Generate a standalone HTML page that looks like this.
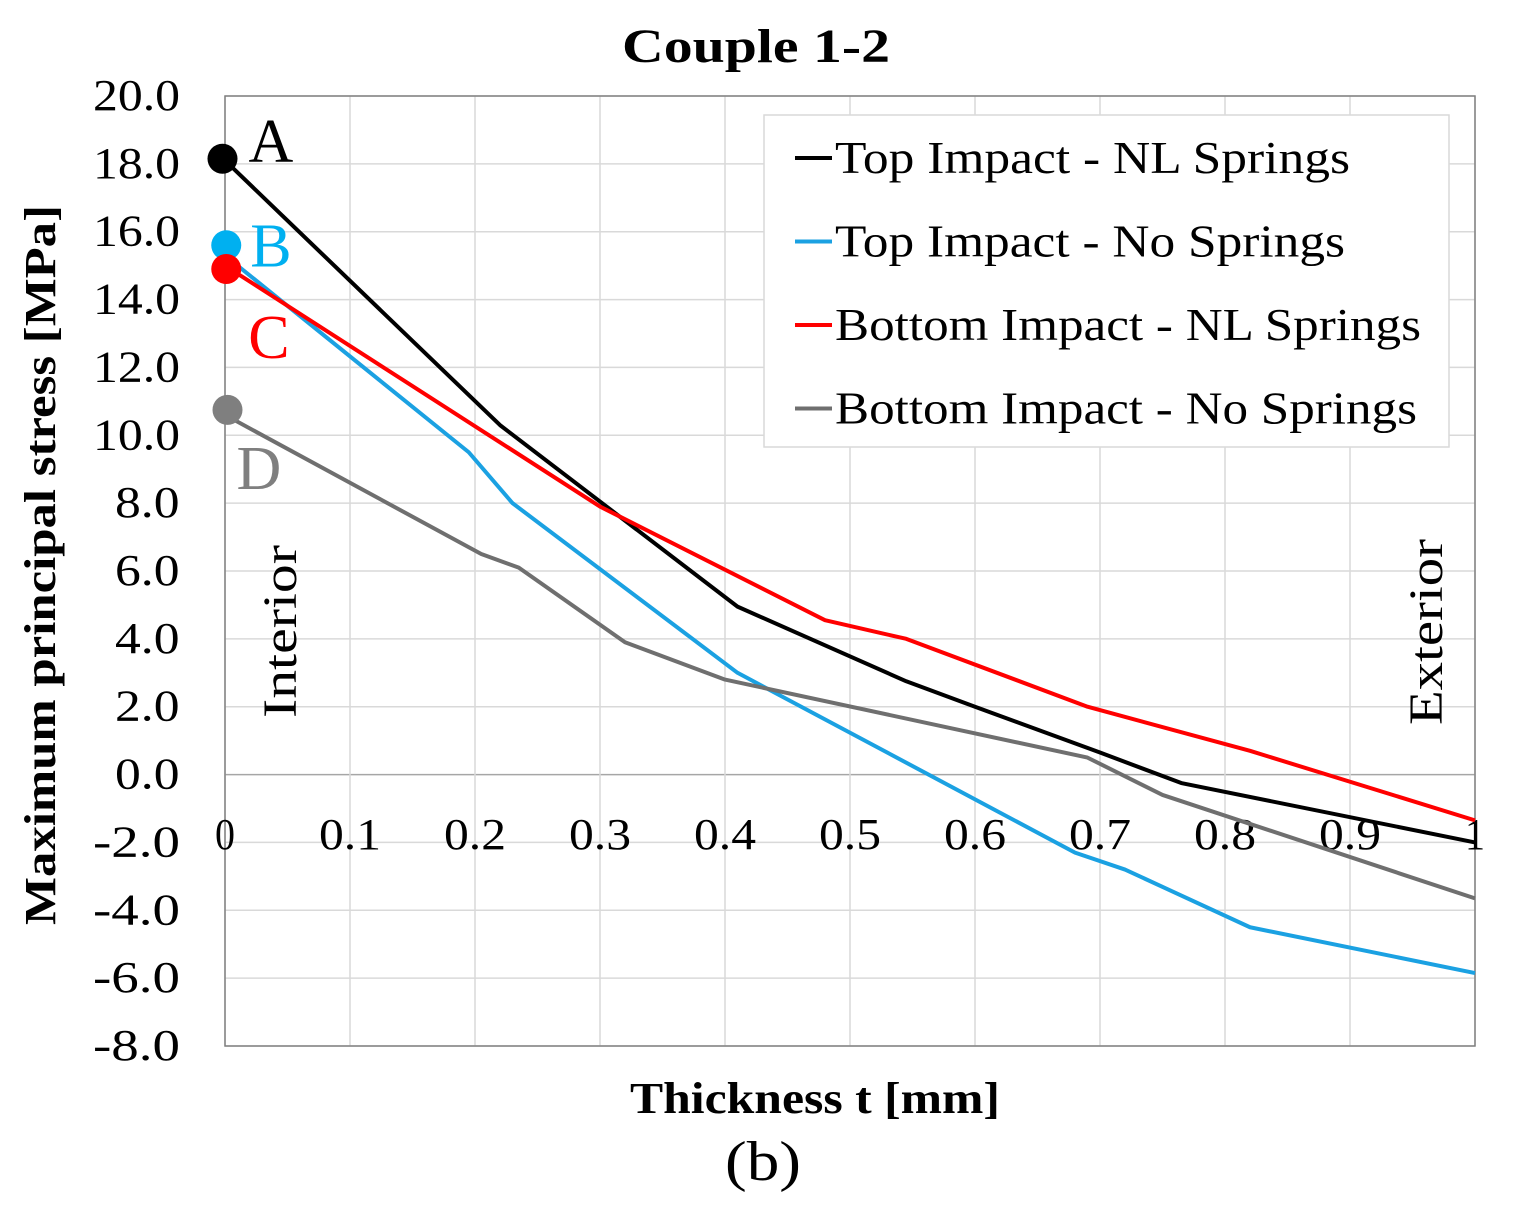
<!DOCTYPE html>
<html><head><meta charset="utf-8"><style>
body{margin:0;background:#fff}
svg text{font-family:"Liberation Serif",serif}
</style></head><body>
<svg id="c" width="1525" height="1205" viewBox="0 0 1525 1205">
<g id="grid"></g>
<g id="ticks"></g>
<g id="series"></g>
<text x="622" y="62" textLength="268" lengthAdjust="spacingAndGlyphs" font-size="48" font-weight="bold">Couple 1-2</text>
<text transform="translate(55,925) rotate(-90)" textLength="720" lengthAdjust="spacingAndGlyphs" font-size="44" font-weight="bold">Maximum principal stress [MPa]</text>
<text x="630" y="1113" textLength="370" lengthAdjust="spacingAndGlyphs" font-size="44" font-weight="bold">Thickness t [mm]</text>
<text x="725" y="1180" textLength="76" lengthAdjust="spacingAndGlyphs" font-size="56">(b)</text>
<text transform="translate(296,718) rotate(-90)" textLength="173" lengthAdjust="spacingAndGlyphs" font-size="48">Interior</text>
<text transform="translate(1442,725) rotate(-90)" textLength="186" lengthAdjust="spacingAndGlyphs" font-size="48">Exterior</text>
<g>
<rect x="764" y="115" width="685" height="332" fill="#fff" stroke="#d9d9d9" stroke-width="1.5"/>
</g>
<g id="legend"></g>
</svg>
<script>
const xTicks=[0,0.1,0.2,0.3,0.4,0.5,0.6,0.7,0.8,0.9,1];
const xTickLabels=["0","0.1","0.2","0.3","0.4","0.5","0.6","0.7","0.8","0.9","1"];
const yTicks=[20,18,16,14,12,10,8,6,4,2,0,-2,-4,-6,-8];
const seriesNames=["Top Impact - NL Springs","Top Impact - No Springs","Bottom Impact - NL Springs","Bottom Impact - No Springs"];
const legendWidths=[515,510,586,582];
const seriesColors=["#000000","#1ba1e2","#ff0000","#6f6f6f"];
const topNLx=[0,0.22,0.41,0.545,0.6,0.7,0.765,1];
const topNLy=[18.1,10.3,4.95,2.75,2.0,0.65,-0.25,-2.0];
const topNoX=[0,0.195,0.23,0.41,0.68,0.72,0.82,1];
const topNoY=[15.3,9.5,8.0,3.0,-2.3,-2.8,-4.5,-5.85];
const botNLx=[0,0.3,0.48,0.545,0.69,0.82,1];
const botNLy=[15.0,7.9,4.55,4.0,2.0,0.7,-1.35];
const botNoX=[0,0.205,0.235,0.32,0.4,0.69,0.75,1];
const botNoY=[10.6,6.5,6.1,3.9,2.8,0.5,-0.6,-3.65];
const markerLabels=["A","B","C","D"];
const markerX=[-0.002,0.001,0.001,0.002];
const markerY=[18.15,15.6,14.9,10.75];
const NS="http://www.w3.org/2000/svg";
const X0=225,X1=1475,Y0=96,Y1=1046;
const sx=v=>X0+(X1-X0)*v;
const sy=v=>Y0+(20-v)/28*(Y1-Y0);
function mk(tag,attrs,parent){const e=document.createElementNS(NS,tag);for(const k in attrs)e.setAttribute(k,attrs[k]);parent.appendChild(e);return e;}
const grid=document.getElementById('grid'),ticks=document.getElementById('ticks'),ser=document.getElementById('series'),leg=document.getElementById('legend');
yTicks.forEach(v=>{
 const l=mk('line',{x1:X0,x2:X1,y1:sy(v),y2:sy(v),stroke:v===0?'#a6a6a6':'#d9d9d9','stroke-width':1.5},grid);
 
 
 const s=v.toFixed(1);
 const t=mk('text',{x:180-(s.length===4?87:s.length===3?65:87*s.length/4),y:sy(v)+14,textLength:(s.length===4?87:s.length*21.5),lengthAdjust:'spacingAndGlyphs','font-size':44},ticks);
 t.textContent=s;
 
 
});
xTicks.forEach((v,i)=>{
 const l=mk('line',{x1:sx(v),x2:sx(v),y1:Y0,y2:Y1,stroke:'#d9d9d9','stroke-width':1.5},grid);
 
 
 const s=xTickLabels[i];
 const w=s.length===1?20:62;
 const t=mk('text',{x:sx(v)-w/2,y:849,textLength:w,lengthAdjust:'spacingAndGlyphs','font-size':44},ticks);
 t.textContent=s;
 
 
});
const frame=mk('rect',{x:X0,y:Y0,width:X1-X0,height:Y1-Y0,fill:'none',stroke:'#808080','stroke-width':1.5},grid);


const data=[[topNLx,topNLy],[topNoX,topNoY],[botNLx,botNLy],[botNoX,botNoY]];
const labelOff=[[26,3],[24,21],[22,89],[9,79]];
const markerCols=["#000000","#00b0f0","#ff0000","#7f7f7f"];
data.forEach((d,i)=>{
 const p=mk('polyline',{points:d[0].map((x,j)=>sx(x)+','+sy(d[1][j])).join(' '),fill:'none',stroke:seriesColors[i],'stroke-width':4,'stroke-linejoin':'round'},ser);
 
 
 const cx=sx(markerX[i]),cy=sy(markerY[i]);
 const c=mk('circle',{cx:cx,cy:cy,r:15,fill:markerCols[i]},ser);
 
 
 const t=mk('text',{x:cx+labelOff[i][0],y:cy+labelOff[i][1],'font-size':62,fill:markerCols[i]},ser);
 t.textContent=markerLabels[i];
 
 
});
seriesNames.forEach((n,i)=>{
 const y=158+i*83.5;
 const l=mk('line',{x1:795,x2:832,y1:y,y2:y,stroke:seriesColors[i],'stroke-width':4},leg);
 
 
 const t=mk('text',{x:835,y:y+15,textLength:legendWidths[i],lengthAdjust:'spacingAndGlyphs','font-size':46},leg);
 t.textContent=n;
 
 
});
</script>
</body></html>
